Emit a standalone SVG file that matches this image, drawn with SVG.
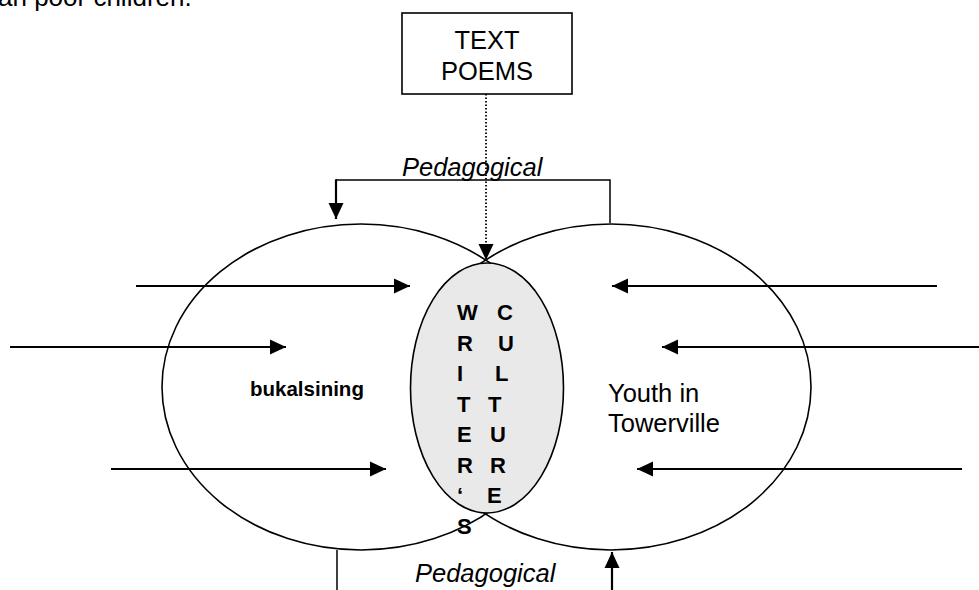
<svg xmlns="http://www.w3.org/2000/svg" width="979" height="590" viewBox="0 0 979 590">
<style>
text{font-family:"Liberation Sans",Arial,sans-serif;fill:#000}
.big{fill:none;stroke:#000;stroke-width:1.6}
.arr{stroke:#000;stroke-width:2.2;fill:none;marker-end:url(#ah)}
.thin{stroke:#000;stroke-width:1.5;fill:none}
.vl{font-size:22px;font-weight:bold}
.ped{font-size:25.5px;font-style:italic}
</style>
<defs>
<marker id="ah" markerUnits="userSpaceOnUse" markerWidth="17" markerHeight="17" viewBox="0 0 17 17" refX="16" refY="8.5" orient="auto">
<path d="M0,1 L16,8.5 L0,16 Z" fill="#000"/>
</marker>
</defs>
<text x="-2" y="6" font-size="26">an poor children.</text>
<g id="left-circle">
<ellipse class="big" cx="361" cy="387" rx="199" ry="163"/>
<text x="250" y="396" font-size="20.5" font-weight="bold">bukalsining</text>
</g>
<g id="right-circle">
<ellipse class="big" cx="611" cy="387" rx="200" ry="163"/>
<text x="608" y="402" font-size="25.5">Youth in</text>
<text x="608" y="432" font-size="25.5">Towerville</text>
</g>
<g id="center">
<ellipse cx="487" cy="388" rx="76.5" ry="125" fill="#e9e9e9" stroke="#000" stroke-width="1.6"/>
<text class="vl" x="457" y="320">W</text>
<text class="vl" x="457" y="350.5">R</text>
<text class="vl" x="457" y="381">I</text>
<text class="vl" x="457" y="411.5">T</text>
<text class="vl" x="457" y="442">E</text>
<text class="vl" x="457" y="472.5">R</text>
<text class="vl" x="457" y="503">‘</text>
<text class="vl" x="457" y="533.5">S</text>
<text class="vl" x="497" y="320">C</text>
<text class="vl" x="498" y="350.5">U</text>
<text class="vl" x="495" y="381">L</text>
<text class="vl" x="488" y="411.5">T</text>
<text class="vl" x="490" y="442">U</text>
<text class="vl" x="490" y="472.5">R</text>
<text class="vl" x="487" y="503">E</text>
</g>
<g id="text-poems">
<rect x="402" y="13" width="170" height="81" fill="#fff" stroke="#000" stroke-width="1.6"/>
<text x="487" y="49" font-size="25.5" text-anchor="middle">TEXT</text>
<text x="487" y="80" font-size="25.5" text-anchor="middle">POEMS</text>
</g>
<g id="labels">
<text class="ped" x="402" y="176">Pedagogical</text>
<text class="ped" x="415" y="582">Pedagogical</text>
</g>
<g id="connectors">
<line x1="486" y1="94" x2="486" y2="260" stroke="#000" stroke-width="1.8" stroke-dasharray="1.5 2" marker-end="url(#ah)"/>
<polyline class="thin" points="336,180 610,180 610,223"/>
<line class="arr" x1="336" y1="179.3" x2="336" y2="219"/>
<line class="thin" x1="337" y1="550" x2="337" y2="590"/>
<line class="arr" x1="612" y1="590" x2="612" y2="552"/>
<line class="arr" x1="136" y1="286" x2="410" y2="286"/>
<line class="arr" x1="10" y1="347" x2="286" y2="347"/>
<line class="arr" x1="111" y1="469" x2="386" y2="469"/>
<line class="arr" x1="937" y1="286" x2="612" y2="286"/>
<line class="arr" x1="979" y1="347" x2="662" y2="347"/>
<line class="arr" x1="962" y1="469" x2="637" y2="469"/>
</g>
</svg>
